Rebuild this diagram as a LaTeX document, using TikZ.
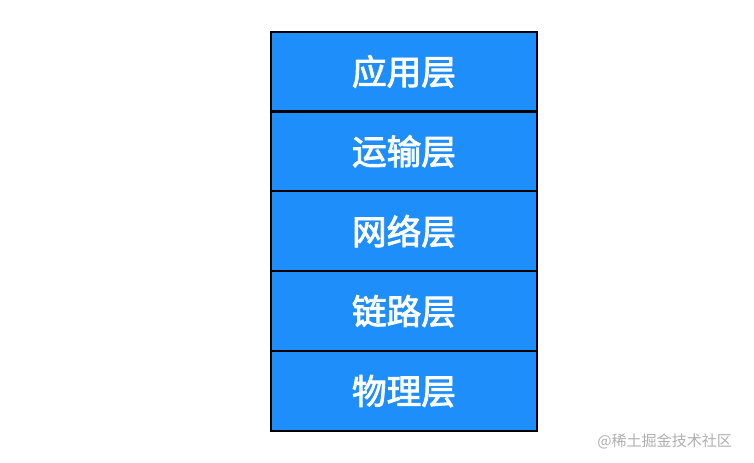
\documentclass[tikz,border=0pt]{standalone}
\usepackage{fontspec}
\newfontfamily\cjk{Noto Sans CJK SC}
\newfontfamily\cjkmed[FakeBold=2.5]{Noto Sans CJK SC}
\definecolor{layerblue}{RGB}{30,142,250}
\definecolor{wmgrey}{RGB}{175,175,175}
\begin{document}
\begin{tikzpicture}[x=0.75pt,y=-0.75pt,
  layer/.style={draw=black,line width=1.6pt,fill=layerblue,minimum width=199.5pt,minimum height=59.9pt,inner sep=0pt,outer sep=0pt,font=\cjkmed\fontsize{26}{30}\selectfont,text=white},
  mark text/.style={font=\cjk\fontsize{11.3}{14}\selectfont,text=wmgrey}]
\useasboundingbox (0,0) rectangle (754,462);
\node[layer] (app) at (404,71.5) {应用层};
\node[layer] (trans) at (404,151.4) {运输层};
\node[layer] (net) at (404,231.3) {网络层};
\node[layer] (link) at (404,311.2) {链路层};
\node[layer] (phys) at (404,391.1) {物理层};
\node[mark text,anchor=west,inner sep=0pt] (wm) at (597,441) {@稀土掘金技术社区};
\end{tikzpicture}
\end{document}
